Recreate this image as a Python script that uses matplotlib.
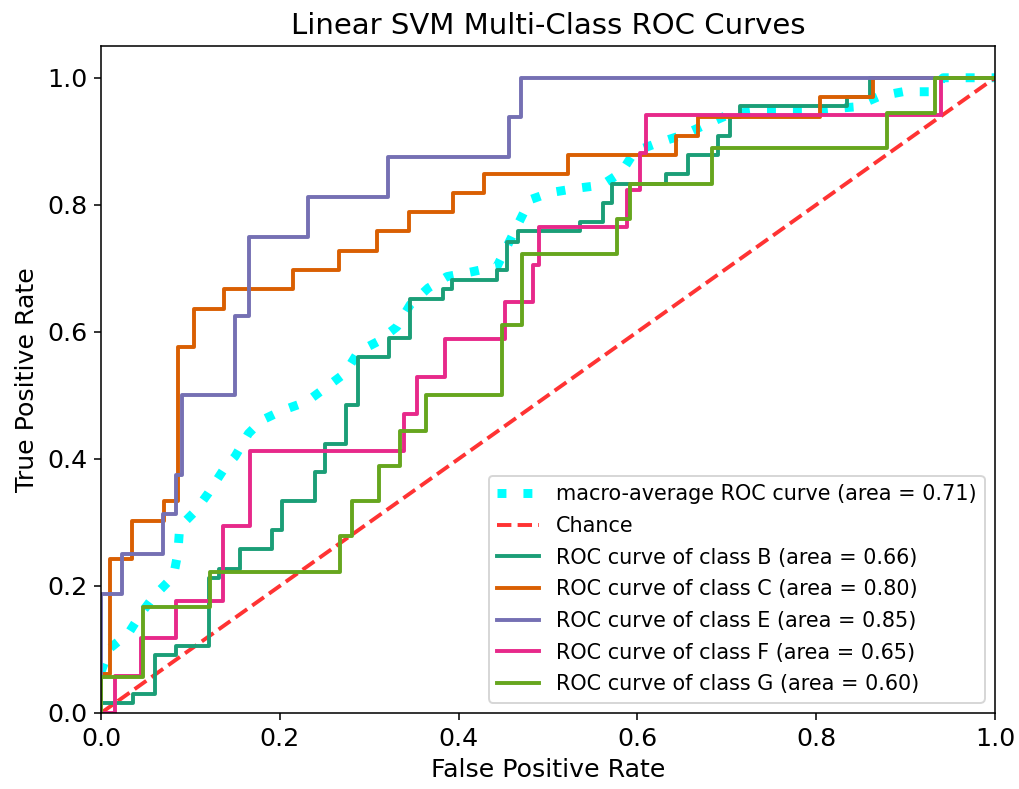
import matplotlib
matplotlib.use("Agg")
import matplotlib.pyplot as plt

DPI = 140
W, H = 1019, 789

# ── ROC step data (jump positions / levels) ────────────────────────────
b_fpr = [0, 0, 0.036, 0.060, 0.084, 0.121, 0.132, 0.156, 0.191, 0.203, 0.239,
         0.251, 0.274, 0.287, 0.322, 0.346, 0.382, 0.393, 0.443, 0.454, 0.466,
         0.536, 0.561, 0.572, 0.632, 0.657, 0.690, 0.704, 0.715, 0.834, 0.860, 1.0]
b_tpr = [0, 0.015, 0.030, 0.091, 0.106, 0.212, 0.227, 0.258, 0.288, 0.333, 0.379,
         0.424, 0.485, 0.561, 0.591, 0.652, 0.667, 0.682, 0.697, 0.742, 0.758,
         0.773, 0.803, 0.833, 0.848, 0.879, 0.909, 0.939, 0.955, 0.970, 1.0, 1.0]

c_fpr = [0, 0, 0.010, 0.035, 0.070, 0.0865, 0.104, 0.138, 0.215, 0.266, 0.309,
         0.344, 0.394, 0.428, 0.522, 0.643, 0.668, 0.804, 0.864, 1.0]
c_tpr = [0, 0.061, 0.242, 0.303, 0.333, 0.576, 0.636, 0.667, 0.697, 0.727, 0.758,
         0.788, 0.818, 0.848, 0.879, 0.909, 0.939, 0.970, 1.0, 1.0]

e_fpr = [0, 0, 0.023, 0.069, 0.084, 0.091, 0.150, 0.165, 0.232, 0.321, 0.456, 0.470, 1.0]
e_tpr = [0, 0.1875, 0.25, 0.3125, 0.375, 0.5, 0.625, 0.75, 0.8125, 0.875, 0.9375, 1.0, 1.0]

f_fpr = [0, 0.016, 0.045, 0.084, 0.136, 0.167, 0.339, 0.354, 0.385, 0.452, 0.483,
         0.490, 0.588, 0.603, 0.610, 0.940, 1.0]
f_tpr = [0, 0.059, 0.118, 0.176, 0.294, 0.412, 0.471, 0.529, 0.588, 0.647, 0.706,
         0.765, 0.824, 0.882, 0.941, 1.0, 1.0]

g_fpr = [0, 0, 0.047, 0.122, 0.267, 0.281, 0.311, 0.334, 0.364, 0.448, 0.4705,
         0.577, 0.592, 0.683, 0.879, 0.933, 1.0]
g_tpr = [0, 0.056, 0.167, 0.222, 0.278, 0.333, 0.389, 0.444, 0.5, 0.611, 0.722,
         0.778, 0.833, 0.889, 0.944, 1.0, 1.0]

macro_fpr = [0, 0.010, 0.031, 0.045, 0.060, 0.081, 0.086, 0.088, 0.105, 0.120, 0.137,
             0.150, 0.165, 0.180, 0.204, 0.230, 0.254, 0.273, 0.288, 0.310, 0.331,
             0.346, 0.366, 0.387, 0.413, 0.443, 0.454, 0.467, 0.480, 0.502, 0.532,
             0.560, 0.582, 0.597, 0.622, 0.651, 0.676, 0.702, 0.728, 0.759, 0.787,
             0.814, 0.843, 0.871, 0.897, 0.927, 0.942, 0.974, 1.0]
macro_tpr = [0.065, 0.102, 0.126, 0.157, 0.185, 0.215, 0.252, 0.293, 0.317, 0.346, 0.383,
             0.404, 0.440, 0.461, 0.477, 0.490, 0.515, 0.535, 0.569, 0.585, 0.608,
             0.643, 0.669, 0.687, 0.694, 0.703, 0.734, 0.771, 0.808, 0.819, 0.826,
             0.831, 0.851, 0.884, 0.897, 0.910, 0.926, 0.942, 0.947, 0.947, 0.947,
             0.951, 0.954, 0.971, 0.978, 0.978, 1.0, 1.0, 1.0]

classes = ["B", "C", "E", "F", "G"]
areas = [0.66, 0.80, 0.85, 0.65, 0.60]
macro_area = 0.71
curves = [(b_fpr, b_tpr), (c_fpr, c_tpr), (e_fpr, e_tpr), (f_fpr, f_tpr), (g_fpr, g_tpr)]
colors = ["#1b9e77", "#d95f02", "#7570b3", "#e7298a", "#66a61e"]  # Dark2

fig = plt.figure(figsize=(W / DPI, H / DPI), dpi=DPI)
ax = fig.add_axes([101 / W, 1 - 713 / H, (995 - 101) / W, (713 - 46) / H])

ax.plot(macro_fpr, macro_tpr, color="aqua", linestyle=(0, (1, 1.9)), lw=4.6,
        label=f"macro-average ROC curve (area = {macro_area:.2f})")
ax.plot([0, 1], [0, 1], linestyle="--", lw=2, color="r", alpha=0.8, label="Chance")
for (fp, tp), cls, a, col in zip(curves, classes, areas, colors):
    ax.step(fp, tp, where="post", color=col, lw=2,
            label=f"ROC curve of class {cls} (area = {a:.2f})")

ax.set_xlim(0, 1.0)
ax.set_ylim(0, 1.05)
ax.set_xlabel("False Positive Rate", fontsize=13)
ax.set_ylabel("True Positive Rate", fontsize=13)
ax.set_title("Linear SVM Multi-Class ROC Curves", fontsize=15)
ax.tick_params(labelsize=13)
ax.legend(loc="lower right", fontsize=10.7, labelspacing=0.56)

fig.savefig("out.png", dpi=DPI)
